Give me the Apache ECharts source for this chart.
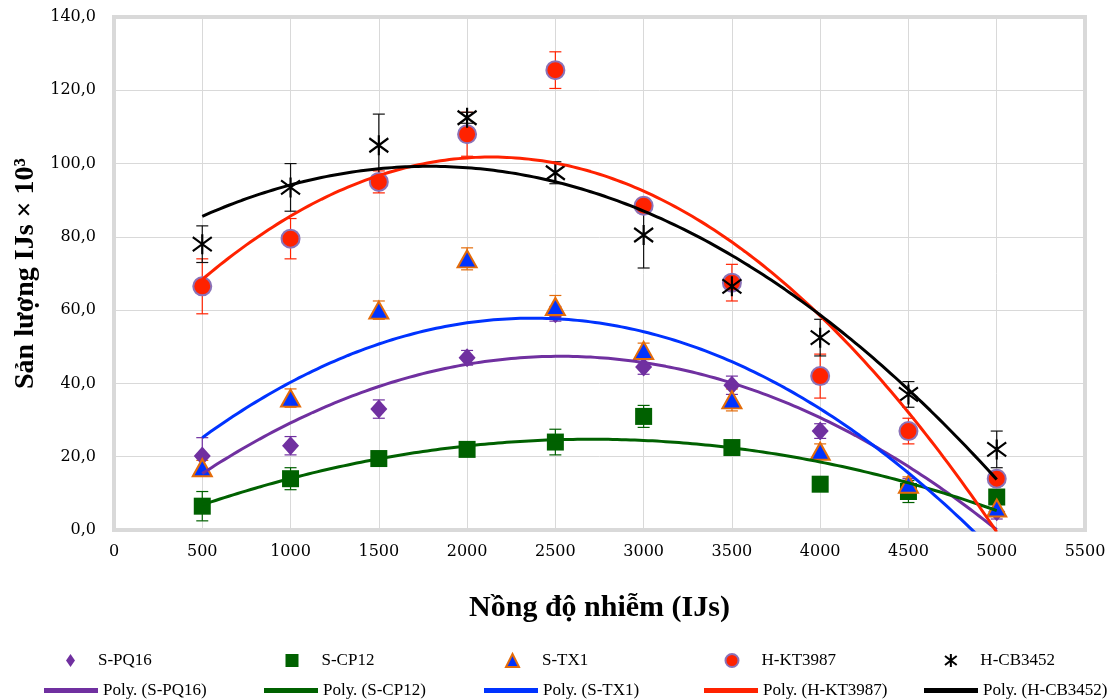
<!DOCTYPE html>
<html>
<head>
<meta charset="utf-8">
<script src="https://cdn.jsdelivr.net/npm/echarts@6/dist/echarts.min.js"></script>
<style>
  html, body { margin: 0; padding: 0; background: #fff; }
  #chart { width: 1120px; height: 700px; }
</style>
</head>
<body>
<div id="chart"></div>
<script>
// nồng độ nhiễm (IJs)
const doses = [500, 1000, 1500, 2000, 2500, 3000, 3500, 4000, 4500, 5000];

// sản lượng IJs x 10^3, giá trị trung bình và sai số
const pq16 = [20.2, 23.0, 33.0, 47.0, 59.0, 44.5, 39.5, 27.0, 12.0, 5.0];
const pq16Err = [5.0, 2.5, 2.5, 2.0, 2.0, 2.0, 2.5, 2.0, 2.0, 2.0];
const cp12 = [6.5, 14.0, 19.5, 22.0, 24.0, 31.0, 22.5, 12.5, 10.5, 9.0];
const cp12Err = [4.0, 3.0, 1.5, 1.5, 3.5, 3.0, 1.0, 1.0, 3.0, 2.0];
const tx1 = [17.0, 36.0, 60.0, 74.0, 61.0, 49.0, 35.5, 21.5, 12.5, 6.0];
const tx1Err = [2.0, 2.5, 2.5, 3.0, 3.0, 2.0, 3.0, 2.0, 2.0, 2.0];
const kt3987 = [66.5, 79.5, 95.0, 108.0, 125.5, 88.5, 67.5, 42.0, 27.0, 14.0];
const kt3987Err = [7.5, 5.5, 3.0, 6.0, 5.0, 2.0, 5.0, 6.0, 3.5, 2.0];
const cb3452 = [78.0, 93.5, 105.0, 112.5, 97.5, 80.5, 66.5, 52.5, 37.0, 22.0];
const cb3452Err = [5.0, 6.5, 8.5, 1.5, 3.0, 9.0, 1.0, 5.0, 3.5, 5.0];

const xTicks = [0, 500, 1000, 1500, 2000, 2500, 3000, 3500, 4000, 4500, 5000, 5500];
const yTicks = [0, 20, 40, 60, 80, 100, 120, 140];

const pointNames = ['S-PQ16', 'S-CP12', 'S-TX1', 'H-KT3987', 'H-CB3452'];
const trendNames = ['Poly. (S-PQ16)', 'Poly. (S-CP12)', 'Poly. (S-TX1)', 'Poly. (H-KT3987)', 'Poly. (H-CB3452)'];

const serif = 'DejaVu Serif';
const legendFont = 'Liberation Serif';

// hình ngôi sao (dấu *) kiểu Excel
const starPath = 'path://M0,-10L0,10M-9,-7L9,7M-9,7L9,-7';

// bậc 2, bình phương tối thiểu (giống đường xu hướng Poly. của Excel)
function polyFit2(xs, ys) {
  let s = [0, 0, 0, 0, 0], t = [0, 0, 0];
  xs.forEach((x0, i) => {
    const x = x0 / 1000;
    let p = 1;
    for (let k = 0; k < 5; k++) { s[k] += p; if (k < 3) t[k] += p * ys[i]; p *= x; }
  });
  const m = [[s[0], s[1], s[2], t[0]], [s[1], s[2], s[3], t[1]], [s[2], s[3], s[4], t[2]]];
  for (let c = 0; c < 3; c++) {
    for (let r = c + 1; r < 3; r++) {
      const f = m[r][c] / m[c][c];
      for (let k = c; k < 4; k++) m[r][k] -= f * m[c][k];
    }
  }
  const b = [0, 0, 0];
  for (let r = 2; r >= 0; r--) {
    let v = m[r][3];
    for (let k = r + 1; k < 3; k++) v -= m[r][k] * b[k];
    b[r] = v / m[r][r];
  }
  return x => { const u = x / 1000; return b[0] + b[1] * u + b[2] * u * u; };
}

function trendData(ys) {
  const f = polyFit2(doses, ys);
  const out = [];
  for (let x = doses[0]; x <= doses[doses.length - 1]; x += 25) out.push([x, f(x)]);
  return out;
}

function errorBars(ys, errs, color) {
  return {
    type: 'custom',
    z: 2,
    silent: true,
    encode: { x: 0, y: 1 },
    data: doses.map((d, i) => [d, ys[i], errs[i]]),
    renderItem: function (params, api) {
      const x = api.value(0), y = api.value(1), e = api.value(2);
      const top = api.coord([x, y + e]);
      const bot = api.coord([x, y - e]);
      const hw = 6;
      const st = { stroke: color, lineWidth: 1.2 };
      return {
        type: 'group',
        children: [
          { type: 'line', shape: { x1: top[0], y1: top[1], x2: bot[0], y2: bot[1] }, style: st },
          { type: 'line', shape: { x1: top[0] - hw, y1: top[1], x2: top[0] + hw, y2: top[1] }, style: st },
          { type: 'line', shape: { x1: bot[0] - hw, y1: bot[1], x2: bot[0] + hw, y2: bot[1] }, style: st }
        ]
      };
    }
  };
}

function points(name, ys, symbol, size, itemStyle) {
  return {
    name: name,
    type: 'scatter',
    z: 3,
    symbol: symbol,
    symbolSize: size,
    itemStyle: Object.assign({ opacity: 1 }, itemStyle),
    data: doses.map((d, i) => [d, ys[i]])
  };
}

function trend(name, ys, color) {
  return {
    name: name,
    type: 'line',
    z: 4,
    symbol: 'none',
    silent: true,
    lineStyle: { color: color, width: 3 },
    itemStyle: { color: color },
    data: trendData(ys)
  };
}

// chú thích: mỗi mục một legend để giữ khoảng cách đều như bản gốc
const legends = [];
const pointIcons = ['diamond', 'rect', 'triangle', 'circle', starPath];
pointNames.forEach((n, i) => {
  legends.push({
    left: 61 + i * 219.5,
    top: 647,
    itemWidth: i === 0 ? 9 : 13,
    itemHeight: 13,
    selectedMode: false,
    data: [{ name: n, icon: pointIcons[i] }],
    textStyle: { fontFamily: legendFont, fontSize: 17, color: '#000', padding: [0, 0, 0, 18] }
  });
});
trendNames.forEach((n, i) => {
  legends.push({
    left: 39 + i * 220,
    top: 677,
    itemWidth: 54,
    itemHeight: 5,
    selectedMode: false,
    data: [{ name: n, icon: 'rect' }],
    textStyle: { fontFamily: legendFont, fontSize: 17, color: '#000' }
  });
});

const chart = echarts.init(document.getElementById('chart'));

const option = {
  backgroundColor: '#fff',
  animation: false,
  grid: {
    left: 114, right: 35, top: 17, bottom: 170,
    show: true, borderColor: '#d9d9d9', borderWidth: 4
  },
  legend: legends,
  xAxis: {
    type: 'value',
    min: xTicks[0],
    max: xTicks[xTicks.length - 1],
    interval: 500,
    name: 'Nồng độ nhiễm (IJs)',
    nameLocation: 'middle',
    nameGap: 63,
    nameTextStyle: { fontFamily: legendFont, fontWeight: 'bold', fontSize: 30, color: '#000' },
    axisLine: { show: false },
    axisTick: { show: false },
    axisLabel: { margin: 14, fontFamily: serif, fontSize: 16, color: '#000', formatter: v => String(v) },
    splitLine: { show: true, lineStyle: { color: '#d9d9d9', width: 1 } }
  },
  yAxis: {
    type: 'value',
    min: yTicks[0],
    max: yTicks[yTicks.length - 1],
    interval: 20,
    name: 'Sản lượng IJs × 10³',
    nameLocation: 'middle',
    nameGap: 48,
    nameTextStyle: { fontFamily: legendFont, fontWeight: 'bold', fontSize: 28, color: '#000' },
    axisLine: { show: false },
    axisTick: { show: false },
    axisLabel: {
      margin: 18, fontFamily: serif, fontSize: 16, color: '#000',
      formatter: v => v.toFixed(1).replace('.', ',')
    },
    splitLine: { show: true, lineStyle: { color: '#d9d9d9', width: 1 } }
  },
  series: [
    errorBars(pq16, pq16Err, '#7030a0'),
    errorBars(cp12, cp12Err, '#006100'),
    errorBars(tx1, tx1Err, '#e46c0a'),
    errorBars(kt3987, kt3987Err, '#ff2200'),
    errorBars(cb3452, cb3452Err, '#111'),
    points(pointNames[0], pq16, 'diamond', [17, 19], { color: '#7030a0' }),
    points(pointNames[1], cp12, 'rect', 17, { color: '#006100' }),
    points(pointNames[2], tx1, 'triangle', [19, 17], { color: '#0033ff', borderColor: '#e46c0a', borderWidth: 2 }),
    points(pointNames[3], kt3987, 'circle', 18, { color: '#ff2200', borderColor: '#8b72b8', borderWidth: 2 }),
    points(pointNames[4], cb3452, starPath, [19, 20], { color: 'transparent', borderColor: '#000', borderWidth: 2.2 }),
    trend(trendNames[0], pq16, '#7030a0'),
    trend(trendNames[1], cp12, '#006100'),
    trend(trendNames[2], tx1, '#0033ff'),
    trend(trendNames[3], kt3987, '#ff2200'),
    trend(trendNames[4], cb3452, '#000')
  ]
};

chart.setOption(option);
</script>
</body>
</html>
